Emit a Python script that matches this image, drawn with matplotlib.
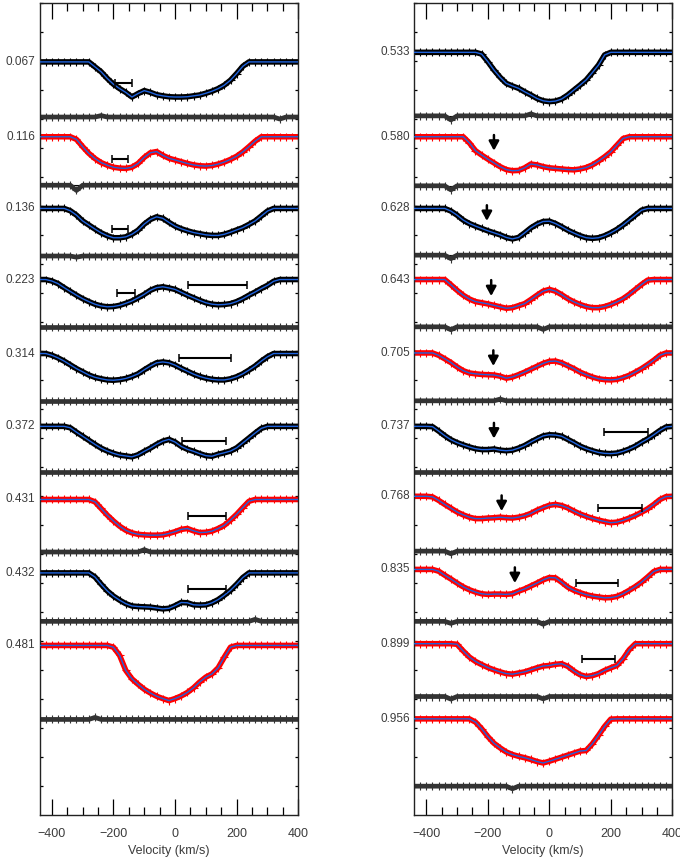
import numpy as np
import matplotlib
matplotlib.use("Agg")
import matplotlib.pyplot as plt
from matplotlib.ticker import MultipleLocator
from matplotlib.transforms import blended_transform_factory

plt.rcParams['font.family'] = ['Liberation Sans', 'DejaVu Sans']

# Velocity grid of the profiles (km/s)
velocity = np.arange(-440, 401, 20)

# ---- Left column: orbital phases 0.067 - 0.481 ----
# Line depth below the continuum, in units of 0.001
depth_067 = [0]*9 + [17, 34, 57, 77, 92, 105, 121, 109, 99, 105, 113, 117, 120, 121, 121,
                     120, 117, 114, 108, 101, 92, 80, 63, 40, 15] + [0]*9
depth_116 = [0]*6 + [9, 34, 57, 75, 89, 98, 105, 108, 109, 105, 92, 71, 55, 51, 64, 74, 80,
                     86, 92, 97, 100, 101, 99, 94, 87, 78, 67, 52, 34, 15] + [0]*7
depth_136 = [0]*5 + [8, 23, 43, 57, 71, 84, 94, 101, 101, 98, 89, 75, 54, 38, 29, 34, 48, 61,
                     70, 77, 83, 87, 91, 93, 93, 89, 82, 74, 66, 55, 43, 26, 9] + [0]*5
depth_223 = [0]*2 + [5, 14, 28, 41, 54, 66, 76, 85, 91, 94, 93, 89, 82, 74, 63, 51, 37, 28,
                     25, 29, 34, 44, 54, 63, 72, 80, 85, 87, 86, 83, 76, 66, 54, 43, 31, 20,
                     6] + [0]*4
depth_314 = [0]*2 + [6, 15, 26, 39, 52, 63, 74, 82, 87, 91, 92, 90, 86, 79, 70, 56, 43, 32,
                     29, 32, 40, 51, 61, 71, 79, 85, 89, 91, 91, 87, 80, 70, 57, 43, 26,
                     11] + [0]*5
depth_372 = [0]*5 + [5, 20, 34, 48, 62, 75, 85, 93, 99, 102, 105, 98, 86, 75, 62, 51, 45, 54,
                     69, 79, 86, 94, 101, 103, 96, 91, 85, 74, 57, 40, 23, 7] + [0]*6
depth_431 = [0]*9 + [8, 31, 54, 74, 92, 106, 115, 120, 122, 123, 123, 122, 117, 111, 103,
                     100, 108, 114, 113, 109, 100, 89, 71, 51, 28, 6] + [0]*8
depth_432 = [0]*9 + [14, 39, 62, 80, 94, 106, 114, 116, 117, 118, 121, 124, 122, 113, 102,
                     103, 110, 111, 110, 103, 92, 77, 60, 39, 16] + [0]*9
depth_481 = [0]*12 + [6, 34, 86, 115, 134, 151, 164, 175, 183, 190, 183, 174, 162, 146, 126,
                      109, 98, 77, 40, 6] + [0]*11

# Residuals (observed - model), units of 0.001
resid_067 = [0]*10 + [5] + [0]*28 + [-7] + [0]*3
resid_116 = [0]*6 + [-18] + [0]*36
resid_136 = [0]*6 + [-4] + [0]*36
resid_223 = [0]*43
resid_314 = [0]*43
resid_372 = [0]*43
resid_431 = [0]*17 + [8] + [0]*25
resid_432 = [0]*35 + [7] + [0]*7
resid_481 = [0]*9 + [7] + [0]*33

left_phases = ['0.067', '0.116', '0.136', '0.223', '0.314', '0.372', '0.431', '0.432', '0.481']
left_levels = [2.497, 2.239, 1.992, 1.747, 1.492, 1.241, 0.989, 0.736, 0.486]
left_resid_levels = [2.307, 2.072, 1.828, 1.584, 1.329, 1.084, 0.808, 0.569, 0.231]
left_colors = ['black', 'red', 'black', 'black', 'black', 'black', 'red', 'black', 'red']
left_depths = [depth_067, depth_116, depth_136, depth_223, depth_314, depth_372,
               depth_431, depth_432, depth_481]
left_resids = [resid_067, resid_116, resid_136, resid_223, resid_314, resid_372,
               resid_431, resid_432, resid_481]

# ---- Right column: orbital phases 0.533 - 0.956 ----
depth_533 = [0]*11 + [6, 32, 61, 86, 107, 116, 124, 136, 147, 159, 167, 170, 168, 161, 147,
                      130, 113, 95, 70, 44, 9] + [0]*11
depth_580 = [0]*9 + [21, 48, 63, 77, 90, 103, 113, 117, 116, 107, 94, 97, 103, 107, 109, 111,
                     113, 114, 111, 106, 97, 84, 69, 52, 29, 6] + [0]*8
depth_628 = [0]*6 + [9, 23, 40, 52, 61, 69, 77, 84, 91, 100, 105, 100, 84, 67, 54, 45, 44,
                     52, 63, 75, 85, 94, 101, 103, 101, 94, 84, 72, 57, 40, 23, 6] + [0]*5
depth_643 = [0]*6 + [18, 37, 54, 67, 76, 80, 84, 89, 94, 99, 97, 90, 83, 69, 54, 40, 34, 40,
                     52, 66, 77, 86, 93, 97, 97, 93, 86, 77, 66, 51, 34, 17, 2] + [0]*4
depth_705 = [0]*4 + [8, 20, 33, 48, 61, 69, 72, 74, 75, 76, 80, 87, 83, 75, 66, 56, 46, 36,
                     29, 28, 34, 44, 54, 66, 75, 83, 89, 92, 93, 91, 85, 77, 66, 54, 40, 25,
                     8] + [0]*2
depth_737 = [0]*3 + [1, 16, 32, 46, 56, 64, 71, 77, 80, 80, 78, 82, 84, 82, 75, 66, 54, 43,
                     33, 29, 30, 34, 45, 56, 68, 77, 84, 90, 93, 94, 92, 86, 78, 68, 55, 43,
                     29, 14, 2] + [0]*1
depth_768 = [0]*3 + [2, 14, 28, 41, 54, 64, 72, 77, 77, 75, 74, 72, 74, 75, 72, 67, 59, 48,
                     39, 31, 28, 32, 40, 51, 61, 69, 76, 82, 87, 91, 89, 83, 75, 66, 55, 43,
                     28, 11, 1] + [0]*1
depth_835 = [0]*4 + [6, 20, 33, 47, 60, 70, 78, 84, 86, 85, 85, 86, 84, 75, 67, 57, 47, 36,
                     28, 29, 44, 61, 72, 80, 87, 92, 95, 98, 97, 93, 84, 72, 59, 44, 26,
                     7] + [0]*3
depth_899 = [0]*7 + [2, 25, 46, 61, 72, 82, 90, 97, 103, 105, 101, 97, 90, 83, 77, 75, 71,
                     69, 78, 94, 107, 113, 110, 103, 92, 83, 75, 52, 21] + [0]*7
depth_956 = [0]*10 + [11, 34, 61, 84, 100, 114, 123, 129, 134, 140, 147, 152, 146, 139, 132,
                      125, 118, 111, 109, 86, 57, 26, 1] + [0]*10

resid_533 = [0]*6 + [-14] + [0]*12 + [7] + [0]*23
resid_580 = [0]*6 + [-14] + [0]*36
resid_628 = [0]*6 + [-12] + [0]*36
resid_643 = [0]*6 + [-10] + [0]*14 + [-9] + [0]*21
resid_705 = [0]*14 + [6] + [0]*28
resid_737 = [0]*43
resid_768 = [0]*6 + [-9] + [0]*36
resid_835 = [0]*6 + [-7] + [0]*14 + [-10] + [0]*21
resid_899 = [0]*6 + [-9] + [0]*14 + [-8] + [0]*21
resid_956 = [0]*16 + [-9] + [0]*26

right_phases = ['0.533', '0.580', '0.628', '0.643', '0.705', '0.737', '0.768', '0.835',
                '0.899', '0.956']
right_levels = [2.530, 2.239, 1.992, 1.747, 1.494, 1.241, 1.000, 0.748, 0.492, 0.233]
right_resid_levels = [2.311, 2.070, 1.831, 1.584, 1.329, 1.084, 0.811, 0.569, 0.310, 0.001]
right_colors = ['black', 'red', 'black', 'red', 'red', 'black', 'red', 'red', 'red', 'red']
right_depths = [depth_533, depth_580, depth_628, depth_643, depth_705, depth_737,
                depth_768, depth_835, depth_899, depth_956]
right_resids = [resid_533, resid_580, resid_628, resid_643, resid_705, resid_737,
                resid_768, resid_835, resid_899, resid_956]

# Horizontal velocity-range bars: (low, high, y)
left_bar_lo = [-195, -206, -206, -188, 42, 13, 22, 42, 42]
left_bar_hi = [-141, -152, -152, -130, 232, 183, 165, 165, 165]
left_bar_y = [2.425, 2.164, 1.921, 1.702, 1.728, 1.477, 1.191, 0.931, 0.679]
right_bar_lo = [178, 157, 87, 106]
right_bar_hi = [322, 303, 224, 213]
right_bar_y = [1.222, 0.961, 0.701, 0.440]

# Downward arrows in the right column: velocity, tail, tip
arrow_vel = [-180, -203, -189, -182, -180, -155, -112]
arrow_tail = [2.245, 2.003, 1.745, 1.503, 1.253, 1.003, 0.755]
arrow_tip = [2.191, 1.949, 1.690, 1.449, 1.199, 0.949, 0.701]

MODEL_BLUE = '#1f63dd'
RESID_GREY = '#333333'
TEXT_GREY = '#3c3c3c'

W, H = 680, 861
fig = plt.figure(figsize=(W / 100, H / 100), dpi=100)
bottom = (H - 814.5) / H
height = (814.5 - 3) / H
ax_left = fig.add_axes([39.5 / W, bottom, (298.3 - 39.5) / W, height])
ax_right = fig.add_axes([414.0 / W, bottom, (672.3 - 414.0) / W, height])


def draw_panel(ax, phases, levels, depths, resid_levels, resids, colors):
    label_tr = blended_transform_factory(ax.transAxes, ax.transData)
    for ph, lev, dep, rlev, res, col in zip(phases, levels, depths, resid_levels,
                                             resids, colors):
        flux = lev - np.asarray(dep) / 1000.0
        ax.plot(velocity, flux, color=col, lw=4.0, solid_joinstyle='round', zorder=2)
        ax.plot(velocity, flux, ls='none', marker='+', ms=5.5, mew=0.8, color=col, zorder=2)
        ax.plot(velocity, flux, color=MODEL_BLUE, lw=1.0, zorder=3)

        ax.axhline(rlev, color='black', lw=0.8, zorder=1)
        r = rlev + np.asarray(res) / 1000.0
        ax.plot(velocity, r, color=RESID_GREY, lw=3.4, solid_joinstyle='round', zorder=2)
        ax.plot(velocity, r, ls='none', marker='+', ms=5.5, mew=0.8, color=RESID_GREY,
                zorder=2)

        ax.text(-0.016, lev, ph, transform=label_tr, ha='right', va='center',
                fontsize=8.5, color=TEXT_GREY)


def style_axes(ax):
    ax.set_xlim(-440, 400)
    ax.set_ylim(-0.0966, 2.7)
    ax.xaxis.set_major_locator(MultipleLocator(200))
    ax.xaxis.set_minor_locator(MultipleLocator(50))
    ax.yaxis.set_major_locator(MultipleLocator(0.1))
    ax.tick_params(axis='x', which='major', direction='in', top=True, bottom=True,
                   length=11.5, width=0.9, pad=9.5, labelsize=9, labelcolor=TEXT_GREY)
    ax.tick_params(axis='x', which='minor', direction='in', top=True, bottom=True,
                   length=5.5, width=0.9)
    ax.tick_params(axis='y', which='major', direction='in', left=True, right=True,
                   length=2.5, width=0.9, labelleft=False)
    for sp in ax.spines.values():
        sp.set_linewidth(1.0)
        sp.set_color('#222222')
    ax.set_xlabel('Velocity (km/s)', fontsize=9, color=TEXT_GREY, labelpad=4)


draw_panel(ax_left, left_phases, left_levels, left_depths, left_resid_levels,
           left_resids, left_colors)
draw_panel(ax_right, right_phases, right_levels, right_depths, right_resid_levels,
           right_resids, right_colors)

for ax, lo, hi, yy in [(ax_left, left_bar_lo, left_bar_hi, left_bar_y),
                       (ax_right, right_bar_lo, right_bar_hi, right_bar_y)]:
    lo = np.asarray(lo, float)
    hi = np.asarray(hi, float)
    ax.errorbar((lo + hi) / 2, yy, xerr=(hi - lo) / 2, fmt='none', ecolor='black',
                elinewidth=1.5, capsize=3.2, capthick=1.1, zorder=5)

for v, t0, t1 in zip(arrow_vel, arrow_tail, arrow_tip):
    ax_right.annotate('', xy=(v, t1), xytext=(v, t0),
                      arrowprops=dict(arrowstyle='-|>,head_length=0.55,head_width=0.3',
                                      color='black', lw=1.8, shrinkA=0, shrinkB=0),
                      zorder=6)

for ax in (ax_left, ax_right):
    style_axes(ax)

fig.savefig('out.png', dpi=100)
